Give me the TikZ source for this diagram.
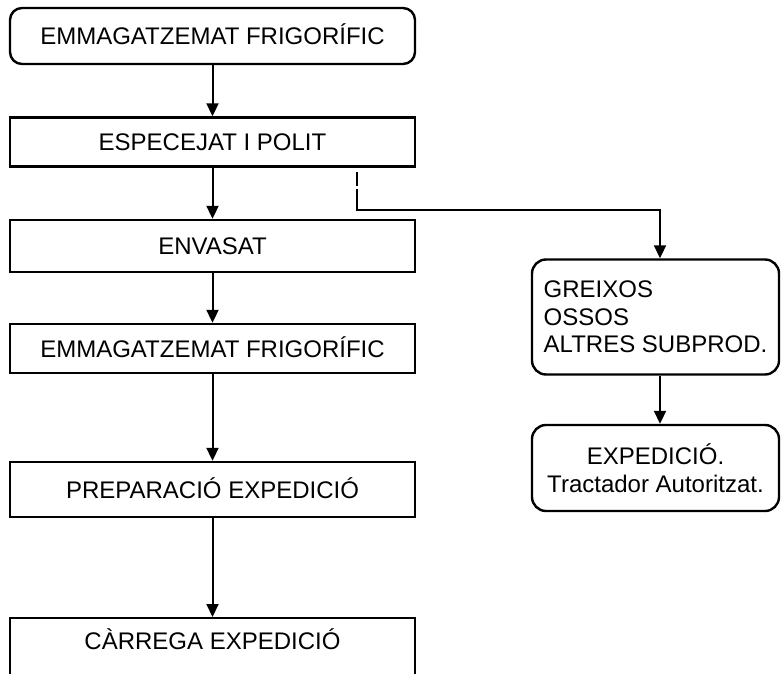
\documentclass[tikz,border=0pt]{standalone}
\usepackage{fontspec}
\setmainfont{Liberation Sans}
\usetikzlibrary{arrows.meta}

\begin{document}
\begin{tikzpicture}[x=1pt,y=-1pt,
  font=\fontsize{24}{27.5}\selectfont,
  every node/.style={inner sep=0pt},
  stepbox/.style={draw, line width=2.4pt, minimum width=405pt, minimum height=49pt,
                  text height=17.2pt, text depth=0pt},
  roundbox/.style={stepbox, rounded corners=12pt},
  sidebox/.style={draw, line width=2.4pt, minimum width=247pt, rounded corners=14pt},
  conn/.style={line width=2pt, -{Triangle[length=13pt,width=12pt]}},
  plain/.style={line width=2pt}]

\useasboundingbox (0,0) rectangle (781,674);
\clip (0,0) rectangle (781,674);

% main processing line
\node[roundbox, minimum height=56pt] (s1) at (212.5,36) {EMMAGATZEMAT FRIGORÍFIC};
\node[stepbox] (s2) at (212.5,142) {ESPECEJAT I POLIT};
\node[stepbox, minimum height=52pt] (s3) at (212.5,246) {ENVASAT};
\node[stepbox] (s4) at (212.5,348.5) {EMMAGATZEMAT FRIGORÍFIC};
\node[stepbox, minimum height=55pt] (s5) at (212.5,489.5) {PREPARACIÓ EXPEDICIÓ};
\node[stepbox, anchor=north, inner ysep=14.5pt, text depth=40pt] (s6) at (212.5,617) {CÀRREGA EXPEDICIÓ};

\draw[conn] (s1) -- (s2);
\draw[conn] (s2) -- (s3);
\draw[conn] (s3) -- (s4);
\draw[conn] (s4) -- (s5);
\draw[conn] (s5) -- (s6);

% by-products branch
\node[sidebox, minimum height=115pt, align=left] (b1) at (655.5,317)
  {GREIXOS\\OSSOS\\ALTRES SUBPROD.};
\node[sidebox, minimum height=86pt, align=center] (b2) at (655.5,468)
  {EXPEDICIÓ.\\Tractador Autoritzat.};

\coordinate (tapA) at (357,172);
\coordinate (tapB) at (357,186);
\coordinate (tapC) at (357,189);
\coordinate (turn) at (660,210);
\draw[plain] (tapA) -- (tapB);
\draw[conn] (tapC) -- (tapC |- turn) -- (turn) -- (turn |- b1.north);
\draw[conn] (b1.south -| turn) -- (b2.north -| turn);

\end{tikzpicture}
\end{document}
